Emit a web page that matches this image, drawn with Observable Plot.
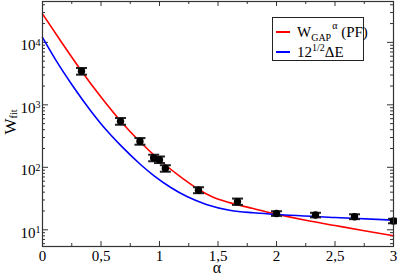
<!DOCTYPE html>
<html><head><meta charset="utf-8">
<script src="https://cdn.jsdelivr.net/npm/d3@7"></script>
<script src="https://cdn.jsdelivr.net/npm/@observablehq/plot@0.6"></script>
<style>
body{margin:0;background:#fff;}
#wrap{position:relative;width:397px;height:275px;font-family:"Liberation Serif",serif;color:#000;}
#wrap svg{display:block;}
.leg{position:absolute;left:272px;top:17px;width:92px;height:44px;border:1px solid #222;background:#fff;box-sizing:border-box;}
.sw{position:absolute;left:3px;width:14px;height:0;border-top:2px solid;}
.lt{position:absolute;left:24px;font-size:15px;line-height:15px;white-space:nowrap;}
.lt sub,.lt sup{font-size:10px;line-height:0;}
.ylab{position:absolute;left:11px;top:122px;transform:translate(-50%,-50%) rotate(-90deg);font-size:17px;line-height:14px;white-space:nowrap;}
.ylab sub{font-size:10px;line-height:0;vertical-align:-1px;}
.xlab{position:absolute;left:217px;top:263px;transform:translateX(-50%);font-size:16px;line-height:10px;}
</style></head><body><div id="wrap"></div>
<script>
// measured data points (alpha, W_fit) with error bars
const alphaX = [1/3, 2/3, 0.833, 0.95, 1.0, 1.05, 4/3, 5/3, 2, 7/3, 8/3, 3];
const wFit   = [3440, 544, 260, 141, 132, 96, 43, 28.1, 18.2, 17.2, 16.2, 13.8];
const wLo    = [3040, 480, 230, 125, 117, 85, 38.5, 25, 16.7, 15.8, 14.8, 12.7];
const wHi    = [3890, 615, 294, 159, 149, 108, 48, 31.6, 19.8, 18.7, 17.7, 15.0];
// red curve: W_GAP^alpha (PF)
const pfX = [0, 0.167, 0.333, 0.5, 0.667, 0.833, 1.0, 1.2, 1.333, 1.45, 1.6, 1.8, 2.0, 2.25, 2.5, 2.75, 3.0];
const pfW = [28600, 9770, 3480, 1330, 551, 256, 131, 66, 44.2, 33.9, 27.2, 21.9, 17.8, 14.2, 11.7, 9.66, 8.04];
// blue curve: 12^(1/2) ΔE
const gapX = [0, 0.114, 0.25, 0.413, 0.555, 0.668, 0.84, 0.954, 1.1, 1.239, 1.4, 1.61, 1.8, 1.98, 2.5, 3.0];
const gapW = [12000, 5190, 2120, 800, 377, 224, 110, 73, 47.1, 33.7, 25.5, 20.4, 18.7, 17.7, 15.7, 14.3];
// ticks
const xMajor = [0, 0.5, 1, 1.5, 2, 2.5, 3];
const xLabels = ["0", "0,5", "1", "1,5", "2", "2,5", "3"];
const xMinor = [0.25, 0.75, 1.25, 1.75, 2.25, 2.75];
const yMajor = [10, 100, 1000, 10000];
const yExp = ["1", "2", "3", "4"];
const yMinor = [6,7,8,9,20,30,40,50,60,70,80,90,200,300,400,500,600,700,800,900,2000,3000,4000,5000,6000,7000,8000,9000,20000,30000,40000];
const yDomain = [5.4, 45100];

const pts = alphaX.map((a, i) => ({a, w: wFit[i], lo: wLo[i], hi: wHi[i]}));
const red = pfX.map((a, i) => ({a, w: pfW[i]}));
const blue = gapX.map((a, i) => ({a, w: gapW[i]}));

const W = 397, H = 275, mL = 42, mR = 4, mT = 1, mB = 29;
const pw = W - mL - mR, ph = H - mT - mB;
const tk = {stroke: "#333", strokeWidth: 1};
const capSymbol = {draw(ctx) { ctx.moveTo(-5.5, 0); ctx.lineTo(5.5, 0); }};

const chart = Plot.plot({
  width: W, height: H,
  marginLeft: mL, marginRight: mR, marginTop: mT, marginBottom: mB,
  style: {fontFamily: "Liberation Serif, serif", fontSize: "15px", background: "white", color: "#000", overflow: "visible"},
  x: {domain: [0, 3]},
  y: {type: "log", domain: yDomain},
  marks: [
    Plot.ruleX(xMajor, {x: d => d, insetTop: ph - 5, ...tk}),
    Plot.ruleX(xMajor, {x: d => d, insetBottom: ph - 5, ...tk}),
    Plot.ruleX(xMinor, {x: d => d, insetTop: ph - 3, ...tk}),
    Plot.ruleX(xMinor, {x: d => d, insetBottom: ph - 3, ...tk}),
    Plot.ruleY(yMajor, {y: d => d, insetRight: pw - 6, ...tk}),
    Plot.ruleY(yMajor, {y: d => d, insetLeft: pw - 6, ...tk}),
    Plot.ruleY(yMinor, {y: d => d, insetRight: pw - 3, ...tk}),
    Plot.ruleY(yMinor, {y: d => d, insetLeft: pw - 3, ...tk}),
    Plot.axisX(xMajor, {tickSize: 0, tickPadding: 4, tickFormat: d => xLabels[xMajor.indexOf(d)], label: null, fontSize: 15}),
    Plot.axisY(yMajor, {tickSize: 0, tickPadding: 2, tickFormat: d => "10|" + yExp[yMajor.indexOf(d)], label: null, fontSize: 15, dy: 3}),
    Plot.line(red, {x: "a", y: "w", stroke: "#ff0000", strokeWidth: 1.6, curve: "monotone-x"}),
    Plot.line(blue, {x: "a", y: "w", stroke: "#0000ff", strokeWidth: 1.6, curve: "monotone-x"}),
    Plot.ruleX(pts, {x: "a", y1: "lo", y2: "hi", stroke: "#000", strokeWidth: 1.5}),
    Plot.dot(pts, {x: "a", y: "lo", symbol: capSymbol, stroke: "#222", strokeWidth: 2, fill: "none"}),
    Plot.dot(pts, {x: "a", y: "hi", symbol: capSymbol, stroke: "#222", strokeWidth: 2, fill: "none"}),
    Plot.dot(pts, {x: "a", y: "w", r: 3.7, fill: "#000", stroke: "none"}),
    Plot.frame({stroke: "#333", strokeWidth: 1.2})
  ]
});

// superscript exponents on y tick labels
d3.select(chart).selectAll("g[aria-label='y-axis tick label'] text").each(function() {
  const t = d3.select(this);
  const [base, ex] = t.text().split("|");
  t.text(null);
  t.append("tspan").text(base);
  t.append("tspan").attr("dy", "-0.45em").attr("font-size", "10px").text(ex);
});

const wrap = document.getElementById("wrap");
wrap.appendChild(chart);
wrap.insertAdjacentHTML("beforeend", `
<div class="leg">
  <div class="sw" style="top:13px;border-color:#ff0000"></div>
  <div class="lt" style="top:7px">W<sub>GAP</sub><sup style="margin-left:1px;position:relative;top:-2px">α</sup> (PF)</div>
  <div class="sw" style="top:33px;border-color:#0000ff"></div>
  <div class="lt" style="top:27px">12<sup>1/2</sup>ΔE</div>
</div>
<div class="ylab">W<sub>fit</sub></div>
<div class="xlab">α</div>`);
</script>
</body></html>
